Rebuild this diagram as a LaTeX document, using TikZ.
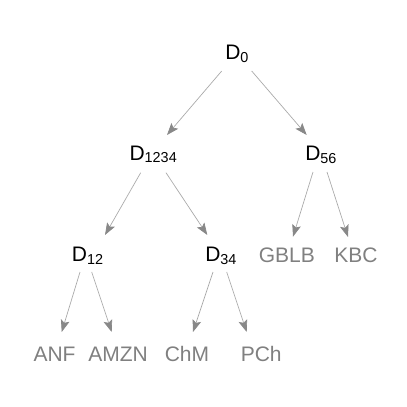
\documentclass[tikz,border=0pt]{standalone}
\usepackage{fontspec}
\setmainfont{Liberation Sans}
\usetikzlibrary{arrows.meta,calc}
\definecolor{leafgray}{HTML}{808080}
\definecolor{linegray}{HTML}{A8A8A8}
\definecolor{headgray}{HTML}{888888}
\newcommand\Dsub[1]{D\raisebox{-2.2pt}{\fontsize{10.8}{12}\selectfont #1}}
\begin{document}
\begin{tikzpicture}[x=0.75pt,y=-0.75pt,
  inner node/.style={anchor=base west,inner sep=0pt,font=\fontsize{15.75}{18}\selectfont,text=black},
  leaf/.style={anchor=base west,inner sep=0pt,font=\fontsize{15.75}{18}\selectfont,text=leafgray},
  arr/.style={draw=linegray,line width=0.5pt,-{Stealth[length=9pt,width=6.6pt,inset=1.8pt,color=headgray]}}]
\useasboundingbox[fill=white] (0,0) rectangle (407,407);
\node[inner node] (D0) at (225,59.3) {\Dsub{0}};
\node[inner node] (D1234) at (129.3,160) {\Dsub{1234}};
\node[inner node] (D56) at (305,160.5) {\Dsub{56}};
\node[inner node] (D12) at (71.7,261.7) {\Dsub{12}};
\node[inner node] (D34) at (205,261.7) {\Dsub{34}};
\node[leaf] (GBLB) at (258.5,262.2) {GBLB};
\node[leaf] (KBC) at (334,262.2) {KBC};
\node[leaf] (ANF) at (33.3,361.7) {ANF};
\node[leaf] (AMZN) at (88,361.7) {AMZN};
\node[leaf] (ChM) at (164.5,361.7) {ChM};
\node[leaf] (PCh) at (240.5,361.7) {PCh};
\draw[arr] ($(D0.base west)+(-3.3,11.7)$) -- ($(D1234.base west)+(37.7,-25)$);
\draw[arr] ($(D0.base west)+(26.7,11.7)$) -- ($(D56.base west)+(1.7,-25.5)$);
\draw[arr] ($(D1234.base west)+(11.4,12.7)$) -- ($(D12.base west)+(33.3,-26.7)$);
\draw[arr] ($(D1234.base west)+(36.7,12.7)$) -- ($(D34.base west)+(2.3,-26.7)$);
\draw[arr] ($(D56.base west)+(8,11.5)$) -- ($(GBLB.base west)+(34.5,-25.5)$);
\draw[arr] ($(D56.base west)+(22,11.5)$) -- ($(KBC.base west)+(14,-25.2)$);
\draw[arr] ($(D12.base west)+(8.3,10.3)$) -- ($(ANF.base west)+(28.4,-29.7)$);
\draw[arr] ($(D12.base west)+(20,10.3)$) -- ($(AMZN.base west)+(23.7,-29.7)$);
\draw[arr] ($(D34.base west)+(8,10.3)$) -- ($(ChM.base west)+(28.5,-29.7)$);
\draw[arr] ($(D34.base west)+(21.7,10.3)$) -- ($(PCh.base west)+(6.2,-29.7)$);
\end{tikzpicture}
\end{document}
